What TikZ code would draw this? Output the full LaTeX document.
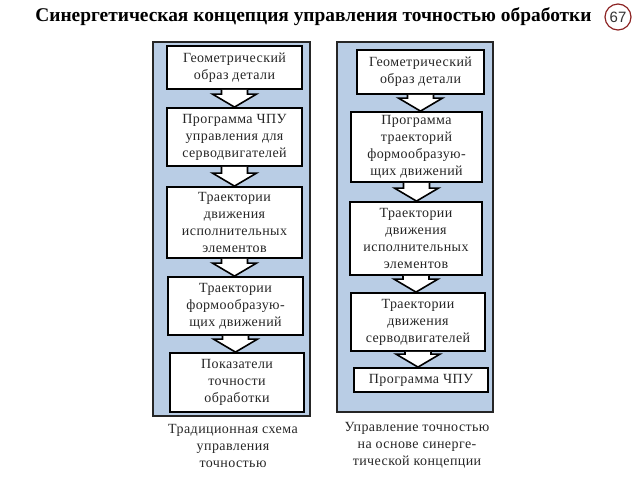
\documentclass[tikz,border=0pt]{standalone}
\usepackage{fontspec}
\setmainfont{Liberation Serif}
\newfontfamily\boxfont[LetterSpace=3]{Liberation Serif}
\newfontfamily\numfont{Liberation Sans}
\usetikzlibrary{calc}
\definecolor{panelblue}{RGB}{185,205,229}
\definecolor{circlered}{RGB}{140,35,35}
% hollow down arrow between two boxes
\newcommand{\blockarrow}[2]{%
  \draw[blockarrow] let \p1=(#1.south), \p2=(#2.north) in
    (\x1-13pt,\y1) -- (\x1-13pt,\y2+13pt) -- (\x1-22pt,\y2+13pt) -- (\x1,\y2)
    -- (\x1+22pt,\y2+13pt) -- (\x1+13pt,\y2+13pt) -- (\x1+13pt,\y1);}
\begin{document}
\begin{tikzpicture}[x=1pt,y=-1pt,
    panel/.style={draw=black!85,fill=panelblue,line width=2pt},
    flowbox/.style={draw=black,fill=white,line width=1.8pt,align=center,inner sep=1pt,
      font=\boxfont\fontsize{14}{17}\selectfont,text=black!85},
    blockarrow/.style={draw=black,fill=white,line width=1.6pt,line join=miter},
    caption/.style={align=center,font=\boxfont\fontsize{14}{16.8}\selectfont,text=black!85}]
  \useasboundingbox (0,0) rectangle (640,480);
  % title
  \node[font=\fontsize{19.4}{22}\selectfont\bfseries] (title) at (313.5,17)
    {Синергетическая концепция управления точностью обработки};
  \node[draw=circlered,line width=1.2pt,circle,minimum size=26pt,inner sep=0pt,
    font=\numfont\fontsize{15}{15}\selectfont,text=black!80] (num) at (618,17) {67};
  % panels
  \draw[panel] (153,42) rectangle (310,416);
  \draw[panel] (337,42) rectangle (493,412);
  % traditional scheme
  \node[flowbox,minimum width=135pt,minimum height=43pt] (l1) at (234.5,67.5)
    {Геометрический\\образ детали};
  \node[flowbox,minimum width=135pt,minimum height=58pt] (l2) at (234.5,137)
    {Программа ЧПУ\\управления для\\серводвигателей};
  \node[flowbox,minimum width=135pt,minimum height=71pt] (l3) at (234.5,222.5)
    {Траектории\\движения\\исполнительных\\элементов};
  \node[flowbox,minimum width=135pt,minimum height=58pt] (l4) at (235.5,306)
    {Траектории\\формообразую-\\щих движений};
  \node[flowbox,minimum width=134pt,minimum height=59pt] (l5) at (237,382.5)
    {Показатели\\точности\\обработки};
  \blockarrow{l1}{l2}
  \blockarrow{l2}{l3}
  \blockarrow{l3}{l4}
  \blockarrow{l4}{l5}
  \node[caption] (lcap) at (233,446)
    {Традиционная схема\\управления\\точностью};
  % synergetic scheme
  \node[flowbox,minimum width=127pt,minimum height=44pt] (r1) at (420.5,72)
    {Геометрический\\образ детали};
  \node[flowbox,minimum width=131pt,minimum height=70pt] (r2) at (416.5,147)
    {Программа\\траекторий\\формообразую-\\щих движений};
  \node[flowbox,minimum width=132pt,minimum height=73pt] (r3) at (416,238.5)
    {Траектории\\движения\\исполнительных\\элементов};
  \node[flowbox,minimum width=134pt,minimum height=58pt] (r4) at (418,322)
    {Траектории\\движения\\серводвигателей};
  \node[flowbox,minimum width=134pt,minimum height=24pt] (r5) at (421,380)
    {Программа ЧПУ};
  \blockarrow{r1}{r2}
  \blockarrow{r2}{r3}
  \blockarrow{r3}{r4}
  \blockarrow{r4}{r5}
  \node[caption] (rcap) at (417,445)
    {Управление точностью\\на основе синерге-\\тической концепции};
\end{tikzpicture}
\end{document}
